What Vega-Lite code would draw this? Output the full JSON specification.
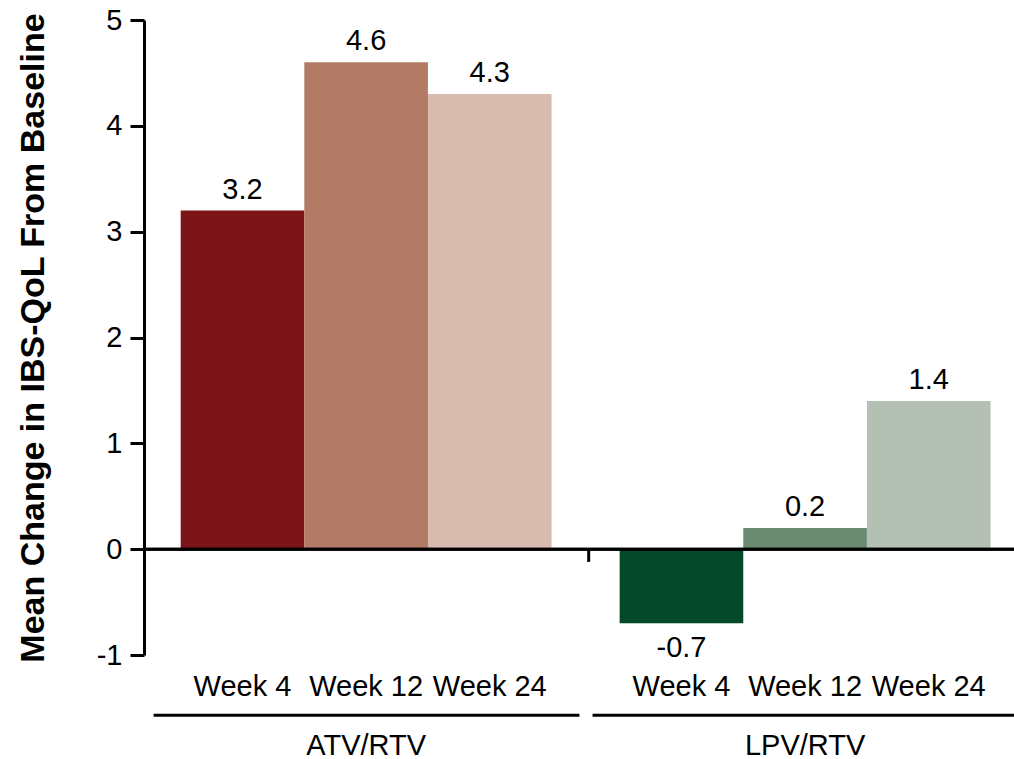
{
  "$schema": "https://vega.github.io/schema/vega-lite/v6.json",
  "autosize": {"type": "none"},
  "width": 870,
  "height": 635,
  "padding": {"left": 144, "top": 20, "right": 0, "bottom": 104},
  "background": "white",
  "config": {
    "view": {"stroke": null},
    "font": "Liberation Sans",
    "text": {"font": "Liberation Sans", "color": "black"}
  },
  "datasets": {
    "bars": [
      {"group": "ATV/RTV", "week": "Week 4", "bar": "ATV/RTV Week 4", "value": 3.2, "label": "3.2"},
      {"group": "ATV/RTV", "week": "Week 12", "bar": "ATV/RTV Week 12", "value": 4.6, "label": "4.6"},
      {"group": "ATV/RTV", "week": "Week 24", "bar": "ATV/RTV Week 24", "value": 4.3, "label": "4.3"},
      {"group": "LPV/RTV", "week": "Week 4", "bar": "LPV/RTV Week 4", "value": -0.7, "label": "-0.7"},
      {"group": "LPV/RTV", "week": "Week 12", "bar": "LPV/RTV Week 12", "value": 0.2, "label": "0.2"},
      {"group": "LPV/RTV", "week": "Week 24", "bar": "LPV/RTV Week 24", "value": 1.4, "label": "1.4"}
    ],
    "groups": [
      {"group": "ATV/RTV"},
      {"group": "LPV/RTV"}
    ]
  },
  "resolve": {"scale": {"x": "shared", "y": "shared"}},
  "layer": [
    {
      "data": {"name": "bars"},
      "mark": {"type": "bar"},
      "encoding": {
        "x": {
          "field": "group", "type": "nominal", "sort": null,
          "scale": {"domain": ["ATV/RTV", "LPV/RTV"], "paddingInner": 0.155, "paddingOuter": 0.0685, "align": 0.61},
          "axis": {"title": null, "orient": "bottom", "ticks": false, "domain": false, "labelAngle": 0, "labelFontSize": 29, "labelColor": "black", "labelBaseline": "alphabetic", "labelPadding": 99, "labelFont": "Liberation Sans"}
        },
        "xOffset": {
          "field": "week", "type": "nominal",
          "scale": {"domain": ["Week 4", "Week 12", "Week 24"], "paddingInner": 0, "paddingOuter": 0}
        },
        "y": {
          "field": "value", "type": "quantitative",
          "scale": {"domain": [-1, 5], "nice": false, "zero": false},
          "axis": {
            "title": "Mean Change in IBS-QoL From Baseline",
            "titleFontSize": 34, "titleFontWeight": "bold", "titleColor": "black", "titleFont": "Liberation Sans",
            "titlePadding": 46,
            "values": [-1, 0, 1, 2, 3, 4, 5],
            "labelExpr": "'' + datum.value",
            "grid": false,
            "domainColor": "black", "domainWidth": 3,
            "tickColor": "black", "tickWidth": 3, "tickSize": 14,
            "labelFontSize": 29, "labelColor": "black", "labelPadding": 8, "labelFont": "Liberation Sans"
          }
        },
        "color": {
          "field": "bar", "type": "nominal", "legend": null,
          "scale": {
            "domain": ["ATV/RTV Week 4", "ATV/RTV Week 12", "ATV/RTV Week 24", "LPV/RTV Week 4", "LPV/RTV Week 12", "LPV/RTV Week 24"],
            "range": ["#7B1518", "#B37A66", "#D9BAAF", "#03492A", "#6B8A72", "#B5C0B4"]
          }
        }
      }
    },
    {
      "data": {"name": "bars"},
      "transform": [{"filter": "datum.value >= 0"}],
      "mark": {"type": "text", "baseline": "alphabetic", "dy": -12, "fontSize": 29, "color": "black"},
      "encoding": {
        "x": {"field": "group", "type": "nominal"},
        "xOffset": {"field": "week", "type": "nominal"},
        "y": {"field": "value", "type": "quantitative"},
        "text": {"field": "label"}
      }
    },
    {
      "data": {"name": "bars"},
      "transform": [{"filter": "datum.value < 0"}],
      "mark": {"type": "text", "baseline": "alphabetic", "dy": 34, "fontSize": 29, "color": "black"},
      "encoding": {
        "x": {"field": "group", "type": "nominal"},
        "xOffset": {"field": "week", "type": "nominal"},
        "y": {"field": "value", "type": "quantitative"},
        "text": {"field": "label"}
      }
    },
    {
      "data": {"name": "bars"},
      "mark": {"type": "text", "baseline": "alphabetic", "dy": 8, "fontSize": 29, "color": "black"},
      "encoding": {
        "x": {"field": "group", "type": "nominal"},
        "xOffset": {"field": "week", "type": "nominal"},
        "y": {"datum": -1.31},
        "text": {"field": "week"}
      }
    },
    {
      "data": {"name": "groups"},
      "mark": {"type": "rule", "color": "black", "strokeWidth": 3},
      "encoding": {
        "x": {"field": "group", "type": "nominal", "bandPosition": -0.073},
        "x2": {"field": "group", "bandPosition": 1.075},
        "y": {"datum": -1.57}
      }
    },
    {
      "data": {"name": "groups"},
      "transform": [{"filter": "datum.group == 'ATV/RTV'"}],
      "mark": {"type": "rule", "color": "black", "strokeWidth": 3},
      "encoding": {
        "x": {"field": "group", "type": "nominal", "bandPosition": 1.1},
        "y": {"datum": 0},
        "y2": {"datum": -0.12}
      }
    },
    {
      "data": {"name": "groups"},
      "mark": {"type": "rule", "color": "black", "strokeWidth": 3},
      "encoding": {
        "y": {"datum": 0}
      }
    }
  ]
}
